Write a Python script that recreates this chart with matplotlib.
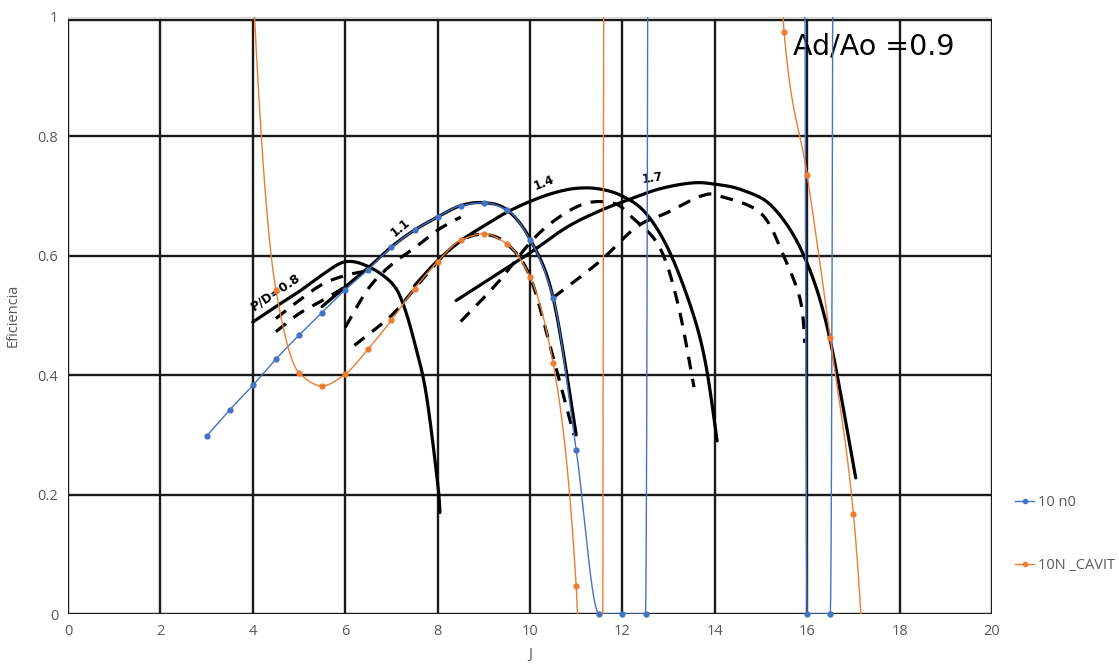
import numpy as np
import matplotlib
matplotlib.use("Agg")
import matplotlib.pyplot as plt
from matplotlib.lines import Line2D

# ---------------- data ----------------
j_blue = [3, 3.5, 4, 4.5, 5, 5.5, 6, 6.5, 7, 7.5, 8, 8.5, 9, 9.5, 10, 10.5, 11,
          11.5, 12, 12.5, 13, 13.5, 14, 14.5, 15, 15.5, 16, 16.5, 17]
eff_blue = [0.298, 0.342, 0.383, 0.427, 0.467, 0.505, 0.543, 0.577, 0.614, 0.643,
            0.665, 0.684, 0.689, 0.677, 0.627, 0.53, 0.275,
            0.0, 0.0, 0.0, 40, 40, 40, 40, 40, 40, 0.0, 0.0, 40]

j_orange = [3.5, 4, 4.5, 5, 5.5, 6, 6.5, 7, 7.5, 8, 8.5, 9, 9.5, 10, 10.5, 11,
            11.5, 12, 12.5, 13, 13.5, 14, 14.5, 15, 15.5, 16, 16.5, 17, 17.5]
eff_orange = [3.0, 1.06, 0.543, 0.404, 0.382, 0.402, 0.444, 0.492, 0.545, 0.59,
              0.626, 0.637, 0.62, 0.565, 0.42, 0.047,
              -2, 30, 30, 30, 30, 30, 30, 4, 0.975, 0.735, 0.462, 0.168, -0.45]

series_names = ["10 n0", "10N _CAVIT"]

# background chart (scanned diagram) curves: solid = open water, dashed = cavitating
pd_labels = ["P/D=0.8", "1.1", "1.4", "1.7"]
solid_08_j = [4.0, 4.5, 5.0, 5.5, 6.0, 6.5, 7.0, 7.25, 7.5, 7.75, 8.0, 8.05]
solid_08_e = [0.489, 0.515, 0.54, 0.568, 0.59, 0.582, 0.555, 0.52, 0.455, 0.37, 0.22, 0.17]
solid_11_j = [5.5, 6.0, 6.5, 7.0, 7.5, 8.0, 8.5, 9.0, 9.5, 10.0, 10.5, 11.0]
solid_11_e = [0.515, 0.548, 0.58, 0.615, 0.643, 0.665, 0.684, 0.689, 0.677, 0.628, 0.53, 0.30]
solid_14_j = [7.5, 8.0, 8.5, 9.0, 9.5, 10.0, 10.5, 11.0, 11.5, 12.0, 12.5, 13.0, 13.5, 13.8, 14.05]
solid_14_e = [0.55, 0.592, 0.625, 0.65, 0.673, 0.691, 0.705, 0.713, 0.712, 0.70, 0.672, 0.61, 0.51, 0.42, 0.29]
solid_17_j = [8.4, 9.0, 10.0, 10.8, 11.5, 12.1, 12.8, 13.5, 14.0, 14.6, 15.25, 15.9, 16.45, 17.05]
solid_17_e = [0.525, 0.555, 0.605, 0.648, 0.675, 0.693, 0.712, 0.722, 0.72, 0.71, 0.682, 0.605, 0.475, 0.228]
dash_08a_j = [4.5, 5.0, 5.5, 6.0, 6.5]
dash_08a_e = [0.495, 0.525, 0.552, 0.567, 0.575]
dash_08b_j = [4.5, 5.0, 5.5, 6.0]
dash_08b_e = [0.473, 0.503, 0.525, 0.548]
dash_11a_j = [6.0, 6.5, 7.0, 7.5, 8.0, 8.5]
dash_11a_e = [0.48, 0.545, 0.585, 0.613, 0.643, 0.665]
dash_11b_j = [6.2, 7.0, 7.5, 8.0, 8.5, 9.0, 9.5, 10.0, 10.5, 10.95]
dash_11b_e = [0.45, 0.5, 0.545, 0.59, 0.625, 0.636, 0.62, 0.565, 0.43, 0.30]
dash_14_j = [8.5, 9.3, 10.2, 11.1, 11.8, 12.2, 12.8, 13.2, 13.55]
dash_14_e = [0.49, 0.555, 0.638, 0.685, 0.688, 0.665, 0.615, 0.52, 0.38]
dash_17_j = [10.5, 11.5, 12.3, 12.96, 13.7, 14.1, 15.0, 15.5, 15.85, 15.95]
dash_17_e = [0.53, 0.59, 0.648, 0.672, 0.70, 0.70, 0.671, 0.598, 0.526, 0.454]

x_ticks = [0, 2, 4, 6, 8, 10, 12, 14, 16, 18, 20]
y_ticks = [0, 0.2, 0.4, 0.6, 0.8, 1.0]
y_tick_labels = ["0", "0.2", "0.4", "0.6", "0.8", "1"]


def smooth_pchip(xs, ys, n=60):
    """Smoothed line through the points (monotone piecewise cubic, no overshoot)."""
    x = np.asarray(xs, float)
    y = np.asarray(ys, float)
    h = np.diff(x)
    d = np.diff(y) / h
    m = np.zeros_like(y)
    for k in range(1, len(x) - 1):
        if d[k - 1] * d[k] > 0:
            w1 = 2 * h[k] + h[k - 1]
            w2 = h[k] + 2 * h[k - 1]
            m[k] = (w1 + w2) / (w1 / d[k - 1] + w2 / d[k])
    m[0] = 0.5 * d[0] if d[0] * d[1] <= 0 else d[0]
    m[-1] = 0.5 * d[-1] if d[-1] * d[-2] <= 0 else d[-1]
    px, py = [x[0]], [y[0]]
    s = np.linspace(0, 1, n)[1:]
    for k in range(len(x) - 1):
        h00 = 2 * s ** 3 - 3 * s ** 2 + 1
        h10 = s ** 3 - 2 * s ** 2 + s
        h01 = -2 * s ** 3 + 3 * s ** 2
        h11 = s ** 3 - s ** 2
        yy = h00 * y[k] + h10 * h[k] * m[k] + h01 * y[k + 1] + h11 * h[k] * m[k + 1]
        px.extend(x[k] + s * h[k])
        py.extend(yy)
    return np.array(px), np.array(py)


def smooth_cr(xs, ys, n=30):
    """Catmull-Rom style smoothing (Bezier through the points)."""
    p = np.column_stack([xs, ys]).astype(float)
    m = len(p)
    out = [p[0]]
    t = np.linspace(0, 1, n)[1:, None]
    for i in range(m - 1):
        p0 = p[i - 1] if i > 0 else p[i]
        p1, p2 = p[i], p[i + 1]
        p3 = p[i + 2] if i + 2 < m else p[i + 1]
        c1 = p1 + (p2 - p0) / 6.0
        c2 = p2 - (p3 - p1) / 6.0
        seg = ((1 - t) ** 3) * p1 + 3 * ((1 - t) ** 2) * t * c1 + 3 * (1 - t) * t ** 2 * c2 + t ** 3 * p2
        out.extend(seg)
    out = np.array(out)
    return out[:, 0], out[:, 1]


W, H = 1119, 672
fig = plt.figure(figsize=(W / 100, H / 100), dpi=100)
ax = fig.add_axes([68 / W, 1 - 614 / H, (992 - 68) / W, (614 - 17) / H])
ax.set_xlim(0, 20)
ax.set_ylim(0, 1)

# Excel light gridlines
for v in x_ticks:
    ax.axvline(v, color="#d9d9d9", lw=0.8, zorder=0)
for v in y_ticks:
    ax.axhline(v, color="#d9d9d9", lw=0.8, zorder=0)

# scanned diagram grid (thick black)
scan = "#1a1a1a"
for v in x_ticks:
    ax.plot([v, v], [0, 0.995], color=scan, lw=1.7, zorder=1, solid_capstyle="butt")
for v in y_ticks:
    ax.plot([0, 20], [min(v, 0.995), min(v, 0.995)], color=scan, lw=1.7, zorder=1,
            solid_capstyle="butt")

# scanned curves
for xs, ys in [(solid_08_j, solid_08_e), (solid_11_j, solid_11_e),
               (solid_14_j, solid_14_e), (solid_17_j, solid_17_e)]:
    sx, sy = smooth_cr(xs, ys)
    ax.plot(sx, sy, color="black", lw=2.3, zorder=2, solid_capstyle="round")
for xs, ys in [(dash_08a_j, dash_08a_e), (dash_08b_j, dash_08b_e),
               (dash_11a_j, dash_11a_e), (dash_11b_j, dash_11b_e),
               (dash_14_j, dash_14_e), (dash_17_j, dash_17_e)]:
    sx, sy = smooth_cr(xs, ys)
    ax.plot(sx, sy, color="black", lw=2.3, zorder=2, dashes=(4, 3))

ax.text(4.5, 0.54, pd_labels[0], rotation=34, fontsize=9, fontweight="bold",
        ha="center", va="center", zorder=3)
ax.text(7.2, 0.648, pd_labels[1], rotation=40, fontsize=8.5, fontweight="bold",
        ha="center", va="center", zorder=3)
ax.text(10.3, 0.722, pd_labels[2], rotation=22, fontsize=8.5, fontweight="bold",
        ha="center", va="center", zorder=3)
ax.text(12.65, 0.73, pd_labels[3], rotation=8, fontsize=8.5, fontweight="bold",
        ha="center", va="center", zorder=3)
ax.text(17.45, 0.95, "Ad/Ao =0.9", fontsize=20.5, ha="center", va="center", zorder=3)

# Excel series
blue, orange = "#4472C4", "#ED7D31"
for xs, ys, c in [(j_blue, eff_blue, blue), (j_orange, eff_orange, orange)]:
    sx, sy = smooth_pchip(xs, ys)
    ax.plot(sx, sy, color=c, lw=1.0, zorder=4)
    xin = [x for x, y in zip(xs, ys) if 0 <= y <= 1]
    yin = [y for x, y in zip(xs, ys) if 0 <= y <= 1]
    ax.plot(xin, yin, ls="none", marker="o", ms=3.5, color=c, zorder=5, clip_on=False)

for s in ax.spines.values():
    s.set_visible(False)
ax.set_xticks(x_ticks)
ax.set_yticks(y_ticks)
ax.set_yticklabels(y_tick_labels)
ax.tick_params(length=0, labelsize=10.5, labelcolor="#595959", pad=7)
for lab in ax.get_xticklabels() + ax.get_yticklabels():
    lab.set_family("Open Sans")
ax.set_xlabel("J", fontsize=10.5, color="#595959", family="Open Sans", labelpad=6)
ax.set_ylabel("Eficiencia", fontsize=10.5, color="#595959", family="Open Sans", labelpad=12)

handles = [Line2D([], [], color=blue, marker="o", ms=3, lw=1.0),
           Line2D([], [], color=orange, marker="o", ms=3, lw=1.0)]
fig.legend(handles, series_names, loc="center left", bbox_to_anchor=(1002 / W, 1 - 534 / H),
           frameon=False, handlelength=1.3, handletextpad=0.3, labelspacing=3.3,
           prop={"family": "Open Sans", "size": 10.5}, labelcolor="#595959")

fig.savefig("out.png", dpi=100)
